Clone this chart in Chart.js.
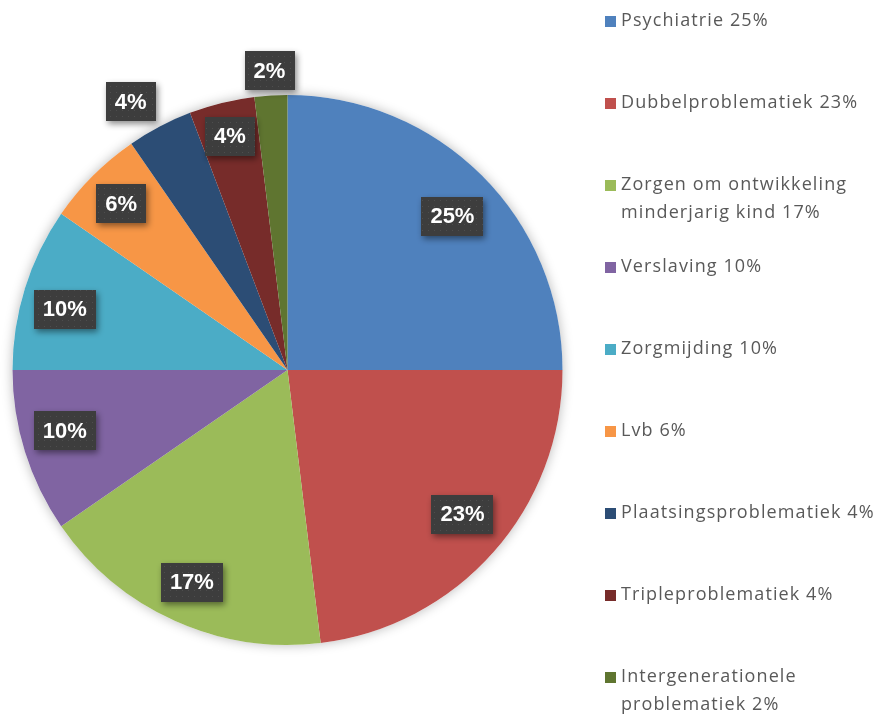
<!DOCTYPE html>
<html lang="nl">

<head>
  <meta charset="UTF-8">
  <title>Problematiek verdeling</title>
  <script src="https://cdn.jsdelivr.net/npm/chart.js"></script>
  <style>
    body {
      margin: 0;
      background: #fff;
    }

    #wrap {
      width: 884px;
      height: 718px;
      position: relative;
    }
  </style>
</head>

<body>
  <div id="wrap"><canvas id="pie"></canvas></div>

  <script>
    // categories (a "\n" marks where the legend text wraps)
    const categories = [
      'Psychiatrie',
      'Dubbelproblematiek',
      'Zorgen om ontwikkeling\nminderjarig kind',
      'Verslaving',
      'Zorgmijding',
      'Lvb',
      'Plaatsingsproblematiek',
      'Tripleproblematiek',
      'Intergenerationele\nproblematiek'
    ];

    // number of cases per category
    const counts = [13, 12, 9, 5, 5, 3, 2, 2, 1];

    const sliceColors = [
      '#4f81bd', '#c0504d', '#9bbb59', '#8064a2', '#4bacc6',
      '#f79646', '#2c4d75', '#772c2a', '#5f7530'
    ];

    // where each data label sits: fraction of the radius, and a small angle nudge (deg)
    const labelRadius = [0.82, 0.825, 0.847, 0.84, 0.84, 0.855, 1.13, 0.876, 1.09];
    const labelNudge = [2, -2, 0, 2, -2, 0, -2.6, 0, 0];

    const total = counts.reduce((a, b) => a + b, 0);
    const pct = v => Math.round(v / total * 100) + '%';

    // small dotted texture for the label boxes
    function makeDots(ctx) {
      const c = document.createElement('canvas');
      c.width = 6;
      c.height = 6;
      const g = c.getContext('2d');
      g.fillStyle = '#3d3d3d';
      g.fillRect(0, 0, 6, 6);
      g.fillStyle = '#4e4e4e';
      g.fillRect(2, 2, 1, 1);
      return ctx.createPattern(c, 'repeat');
    }

    const pieShadow = {
      id: 'pieShadow',
      beforeDatasetsDraw(chart) {
        const arc = chart.getDatasetMeta(0).data[0];
        if (!arc) return;
        const ctx = chart.ctx;
        ctx.save();
        ctx.shadowColor = 'rgba(0,0,0,0.28)';
        ctx.shadowBlur = 12;
        ctx.fillStyle = '#fff';
        ctx.beginPath();
        ctx.arc(arc.x, arc.y, arc.outerRadius, 0, Math.PI * 2);
        ctx.fill();
        ctx.restore();
      }
    };

    const boxLabels = {
      id: 'boxLabels',
      afterDatasetsDraw(chart) {
        const ctx = chart.ctx;
        const dots = makeDots(ctx);
        ctx.save();
        ctx.font = 'bold 22px "Liberation Sans", Arial, sans-serif';
        ctx.textAlign = 'center';
        ctx.textBaseline = 'middle';
        chart.getDatasetMeta(0).data.forEach((arc, i) => {
          const mid = (arc.startAngle + arc.endAngle) / 2 + labelNudge[i] * Math.PI / 180;
          const r = arc.outerRadius * labelRadius[i];
          const x = arc.x + Math.cos(mid) * r;
          const y = arc.y + Math.sin(mid) * r;
          const txt = pct(counts[i]);
          const w = ctx.measureText(txt).width + 18;
          const h = 39;
          ctx.save();
          ctx.shadowColor = 'rgba(0,0,0,0.45)';
          ctx.shadowBlur = 6;
          ctx.shadowOffsetX = 2;
          ctx.shadowOffsetY = 3;
          ctx.fillStyle = dots;
          ctx.fillRect(Math.round(x - w / 2), Math.round(y - h / 2), Math.round(w), h);
          ctx.restore();
          ctx.fillStyle = '#ffffff';
          ctx.fillText(txt, x, y + 1);
        });
        ctx.restore();
      }
    };

    const sideLegend = {
      id: 'sideLegend',
      afterDraw(chart) {
        const ctx = chart.ctx;
        ctx.save();
        ctx.font = '18px "Open Sans", sans-serif';
        ctx.letterSpacing = '1.1px';
        ctx.textBaseline = 'middle';
        ctx.textAlign = 'left';
        chart.data.labels.forEach((lab, i) => {
          const y0 = 21 + 82 * i;
          ctx.fillStyle = sliceColors[i];
          ctx.fillRect(605, y0 - 5, 11, 11);
          ctx.fillStyle = '#595959';
          const lines = (lab + ' ' + pct(counts[i])).split('\n');
          lines.forEach((ln, j) => ctx.fillText(ln, 621, y0 + j * 28));
        });
        ctx.restore();
      }
    };

    const ctx = document.getElementById('pie').getContext('2d');

    new Chart(ctx, {
      type: 'pie',
      data: {
        labels: categories,
        datasets: [{
          data: counts,
          backgroundColor: sliceColors,
          borderWidth: 0
        }]
      },
      options: {
        responsive: true,
        maintainAspectRatio: false,
        animation: false,
        layout: {
          padding: { left: 12, top: 95, right: 321, bottom: 73 }
        },
        plugins: {
          legend: { display: false },
          tooltip: { enabled: false }
        }
      },
      plugins: [pieShadow, boxLabels, sideLegend]
    });
  </script>
</body>

</html>
